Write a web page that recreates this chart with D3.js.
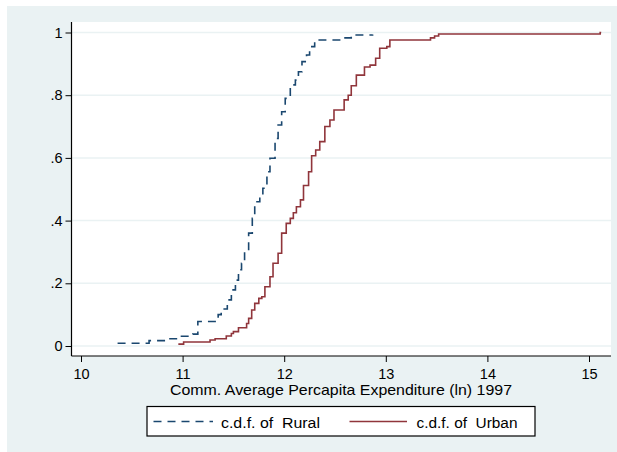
<html>
<head>
	<meta http-equiv="Content-Type" content="text/html; charset=utf-8" />
	<script src="https://cdn.jsdelivr.net/npm/d3@7/dist/d3.min.js" charset="utf-8"></script>
	<style type="text/css">
	body {
		background-color: #FFFFFF;
		margin: 0;
	}
	text {
		font-family: "Liberation Sans", Arial, sans-serif;
		fill: #000;
	}
	</style>
</head>
<body>

	<svg width="617" height="452" version="1.1" xmlns="http://www.w3.org/2000/svg"></svg>

	<script type="text/javascript">
		/* data: [x, cdf] step points */
		var ruralPts = [
			[10.36 ,.009] ,[10.67 ,.017] ,[10.84 ,.023] ,[10.96 ,.031] ,[11.10 ,.038] ,[11.15 ,.078]
		   ,[11.32 ,.088] ,[11.35 ,.100] ,[11.38 ,.118] ,[11.44 ,.147] ,[11.48 ,.179] ,[11.52 ,.210]
		   ,[11.55 ,.243] ,[11.58 ,.264] ,[11.61 ,.300] ,[11.65 ,.360] ,[11.686 ,.407] ,[11.71 ,.460]
		   ,[11.76 ,.482] ,[11.79 ,.503] ,[11.83 ,.556] ,[11.86 ,.599] ,[11.91 ,.662] ,[11.94 ,.705]
		   ,[11.975 ,.747] ,[12.01 ,.790] ,[12.06 ,.833] ,[12.11 ,.848] ,[12.14 ,.875] ,[12.175 ,.907]
		   ,[12.22 ,.928] ,[12.25 ,.955] ,[12.30 ,.976] ,[12.566 ,.983] ,[12.66 ,.992] ,[12.87 ,.994]
		];
		var urbanPts = [
			[10.958 ,.006] ,[11.01 ,.013] ,[11.27 ,.019] ,[11.32 ,.023] ,[11.43 ,.032] ,[11.48 ,.040]
		   ,[11.50 ,.046] ,[11.55 ,.058] ,[11.63 ,.072] ,[11.65 ,.088] ,[11.68 ,.115] ,[11.71 ,.136]
		   ,[11.75 ,.152] ,[11.78 ,.157] ,[11.81 ,.189] ,[11.86 ,.221] ,[11.89 ,.264] ,[11.94 ,.296]
		   ,[11.975 ,.360] ,[12.02 ,.391] ,[12.06 ,.407] ,[12.09 ,.425] ,[12.12 ,.444] ,[12.16 ,.466]
		   ,[12.19 ,.512] ,[12.24 ,.556] ,[12.27 ,.607] ,[12.31 ,.625] ,[12.35 ,.652] ,[12.40 ,.700]
		   ,[12.45 ,.721] ,[12.49 ,.753] ,[12.59 ,.785] ,[12.63 ,.800] ,[12.66 ,.830] ,[12.71 ,.864]
		   ,[12.79 ,.890] ,[12.845 ,.896] ,[12.90 ,.918] ,[12.94 ,.950] ,[13.01 ,.955] ,[13.04 ,.976]
		   ,[13.44 ,.983] ,[13.48 ,.989] ,[13.52 ,.995] ,[15.11 ,1.0] ,[15.12 ,1.0]
		];
		var xTicks       = [10 ,11 ,12 ,13 ,14 ,15];
		var yTicks       = [0 ,.2 ,.4 ,.6 ,.8 ,1];
		var yTickLabels  = ["0" ,".2" ,".4" ,".6" ,".8" ,"1"];
		var xTitle       = "Comm. Average Percapita Expenditure (ln) 1997";
		var legendLabels = ["c.d.f. of  Rural" ,"c.d.f. of  Urban"];

		var v_BG     = "#EAF2F3";
		var v_Rural  = "#1A476F";
		var v_Urban  = "#90353B";

		var v_Plot   = {left: 71.5 ,right: 611 ,top: 22 ,bottom: 356};

		var v_SVG = d3.select("body").select("svg");

		/* outer panel */
		v_SVG.append("rect")
		.attr("x" ,7).attr("y" ,6).attr("width" ,610).attr("height" ,446)
		.attr("fill" ,v_BG);

		/* plot region */
		v_SVG.append("rect")
		.attr("x" ,v_Plot.left).attr("y" ,v_Plot.top)
		.attr("width" ,v_Plot.right - v_Plot.left).attr("height" ,v_Plot.bottom - v_Plot.top)
		.attr("fill" ,"#FFFFFF");

		var v_X = d3.scaleLinear().domain([10 ,15]).range([81 ,589]);
		var v_Y = d3.scaleLinear().domain([0 ,1]).range([346 ,32.5]);

		/* grid lines */
		v_SVG.append("g").selectAll("line")
		.data(yTicks)
		.join("line")
		.attr("x1" ,v_Plot.left).attr("x2" ,v_Plot.right)
		.attr("y1" ,function(d) { return v_Y(d); })
		.attr("y2" ,function(d) { return v_Y(d); })
		.attr("stroke" ,v_BG)
		.attr("stroke-width" ,1.5);

		/* axes */
		var v_YAxis = d3.axisLeft(v_Y)
		.tickValues(yTicks)
		.tickFormat(function(d ,i) { return yTickLabels[i]; })
		.tickSize(6).tickPadding(3);

		var v_XAxis = d3.axisBottom(v_X)
		.tickValues(xTicks)
		.tickFormat(d3.format("d"))
		.tickSize(6).tickPadding(7);

		var v_GY = v_SVG.append("g")
		.attr("transform" ,"translate(" + v_Plot.left + ",0)")
		.call(v_YAxis);

		var v_GX = v_SVG.append("g")
		.attr("transform" ,"translate(0," + v_Plot.bottom + ")")
		.call(v_XAxis);

		[v_GY ,v_GX].forEach(function(g)
		{
			g.select(".domain").remove();
			g.selectAll("text").attr("font-size" ,14.5).attr("font-family" ,null);
			g.selectAll("line").attr("stroke" ,"#000");
		});

		v_SVG.append("line")
		.attr("x1" ,v_Plot.left).attr("x2" ,v_Plot.left)
		.attr("y1" ,v_Plot.top).attr("y2" ,v_Plot.bottom)
		.attr("stroke" ,"#000").attr("stroke-width" ,1.2);

		v_SVG.append("line")
		.attr("x1" ,v_Plot.left).attr("x2" ,v_Plot.right)
		.attr("y1" ,v_Plot.bottom).attr("y2" ,v_Plot.bottom)
		.attr("stroke" ,"#000").attr("stroke-width" ,1.2);

		/* x title, stretched to the reference width */
		v_SVG.append("text")
		.attr("x" ,170)
		.attr("y" ,395)
		.attr("font-size" ,15)
		.attr("textLength" ,342)
		.attr("lengthAdjust" ,"spacingAndGlyphs")
		.text(xTitle);

		/* step lines */
		var v_Line = d3.line()
		.x(function(d) { return v_X(d[0]); })
		.y(function(d) { return v_Y(d[1]); })
		.curve(d3.curveStepAfter);

		v_SVG.append("path")
		.attr("d" ,v_Line(ruralPts))
		.attr("fill" ,"none")
		.attr("stroke" ,v_Rural)
		.attr("stroke-width" ,1.6)
		.attr("stroke-dasharray" ,"8,6");

		v_SVG.append("path")
		.attr("d" ,v_Line(urbanPts))
		.attr("fill" ,"none")
		.attr("stroke" ,v_Urban)
		.attr("stroke-width" ,1.6);

		/* legend */
		var v_Leg = v_SVG.append("g");

		v_Leg.append("rect")
		.attr("x" ,147).attr("y" ,406.5).attr("width" ,388).attr("height" ,29.5)
		.attr("fill" ,"#FFFFFF").attr("stroke" ,"#000").attr("stroke-width" ,1.2);

		var v_LegItems = [
			{x1: 153.5 ,x2: 213 ,tx: 221 ,tw: 99 ,color: v_Rural ,dash: "8,6"}
		   ,{x1: 349.5 ,x2: 407 ,tx: 416.5 ,tw: 101 ,color: v_Urban ,dash: null}
		];

		v_LegItems.forEach(function(it ,i)
		{
			v_Leg.append("line")
			.attr("x1" ,it.x1).attr("x2" ,it.x2)
			.attr("y1" ,421.5).attr("y2" ,421.5)
			.attr("stroke" ,it.color)
			.attr("stroke-width" ,1.6)
			.attr("stroke-dasharray" ,it.dash);

			v_Leg.append("text")
			.attr("x" ,it.tx)
			.attr("y" ,427.5)
			.attr("font-size" ,15.5)
			.attr("textLength" ,it.tw)
			.attr("lengthAdjust" ,"spacingAndGlyphs")
			.attr("xml:space" ,"preserve")
			.style("white-space" ,"pre")
			.text(legendLabels[i]);
		});
	</script>

</body>
</html>
